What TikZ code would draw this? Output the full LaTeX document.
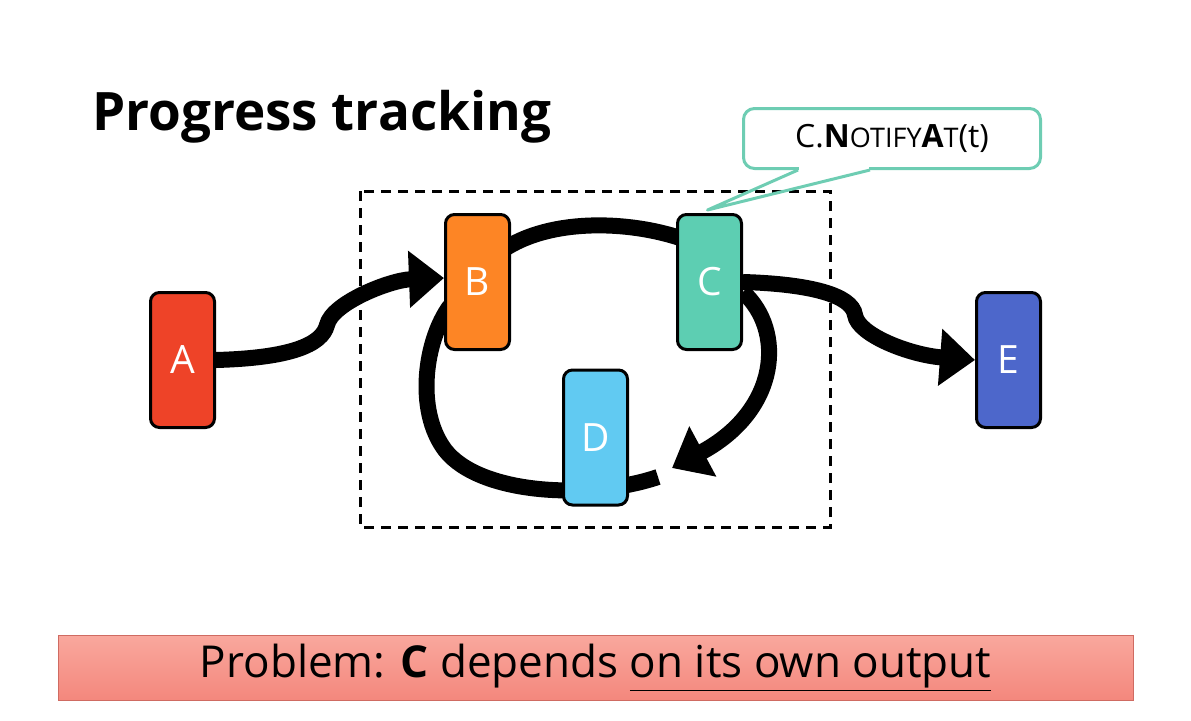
\documentclass[tikz,border=0pt]{standalone}
\usepackage{fontspec}
\setmainfont{Open Sans}
\usetikzlibrary{arrows.meta,calc}

\definecolor{colA}{HTML}{EE4328}
\definecolor{colB}{HTML}{FD8525}
\definecolor{colC}{HTML}{5DCEB2}
\definecolor{colD}{HTML}{61CAF2}
\definecolor{colE}{HTML}{4D67CB}
\definecolor{noteline}{HTML}{6ECDB3}
\definecolor{barTop}{HTML}{F9A89D}
\definecolor{barBot}{HTML}{F4877D}
\definecolor{barLine}{HTML}{CF6B62}

\pgfdeclarelayer{bg}
\pgfsetlayers{bg,main}

\begin{document}
\begin{tikzpicture}[x=1pt, y=-1pt,
    box/.style={draw, line width=3pt, rounded corners=9pt, minimum width=64pt, minimum height=135pt, inner sep=0pt, text=white, font=\fontsize{39}{40}\selectfont},
    flow/.style={line width=16pt},
    tip/.style={-{Triangle[length=35pt,width=55pt]}},
    note/.style={draw=noteline, fill=white, line width=3pt, rounded corners=11pt, minimum width=297pt, minimum height=60pt, font=\fontsize{32}{34}\selectfont},
    bar/.style={draw=barLine, line width=1pt, top color=barTop, bottom color=barBot, minimum width=1075pt, minimum height=65pt, font=\fontsize{44}{46}\selectfont}]
\useasboundingbox (0,0) rectangle (1191,720);
\node [anchor=base west, inner sep=0pt, font=\fontsize{53}{56}\selectfont\bfseries] (title) at (92,130) {Progress tracking};
\foreach \n/\x/\y/\c in {A/182.5/360/colA, B/477.5/282/colB, C/709.5/282/colC, D/595.5/437.5/colD, E/1008.5/360/colE}
{
    \node [box, fill=\c] (\n) at (\x, \y) {\n};
}
\begin{pgfonlayer}{bg}
    \draw [line width=3pt, dash pattern=on 10pt off 7pt] (360,191) rectangle (830,527);
    \draw [flow, tip] (A.east) .. controls (290,358) and (322,345) .. (327,325) .. controls (332,303) and (390,280) .. ($(B.west)+(0,-4)$);
    \draw [flow] ($(B.east)+(-8,-32)$) .. controls (550,218) and (630,220) .. ($(C.west)+(10,-42)$);
    \draw [flow, tip] (C.east) .. controls (810,284) and (852,295) .. (855,315) .. controls (858,335) and (910,355) .. (E.west);
    \draw [flow, tip] ($(C.east)+(0,10)$) .. controls (785,330) and (780,410) .. (672,468);
    \draw [flow] (658,477) .. controls (590,500) and (480,495) .. (445,450) .. controls (415,410) and (425,340) .. ($(B.south west)+(6,-45)$);
\end{pgfonlayer}
\node [note] (notify) at (892,138.5) {C.\textbf{N}{\fontsize{27}{28}\selectfont OTIFY}\textbf{A}{\fontsize{27}{28}\selectfont T}(t)};
\fill [white] ($(notify.south)+(-93,-5)$) rectangle ($(notify.south)+(-23,3)$);
\draw [noteline, line width=3pt, line join=round] ($(notify.south)+(-94,0)$) -- ($(C.north)+(-2,-3)$) -- ($(notify.south)+(-22,0)$);
\node [bar] (problem) at (595.5,667.5) {Problem: \textbf{C} depends \underline{on its own output}};
\end{tikzpicture}
\end{document}
